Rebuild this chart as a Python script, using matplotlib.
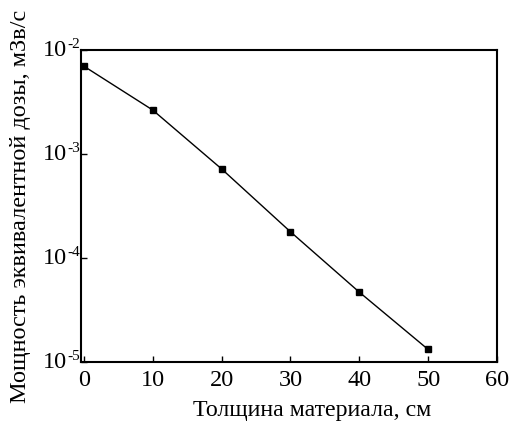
import numpy as np
import matplotlib
matplotlib.use("Agg")
import matplotlib.pyplot as plt
from matplotlib.ticker import NullLocator

thickness = [0, 10, 20, 30, 40, 50]
dose_rate = [7.0e-3, 2.65e-3, 7.2e-4, 1.79e-4, 4.7e-5, 1.32e-5]

x_ticks = [0, 10, 20, 30, 40, 50, 60]
y_ticks = [1e-5, 1e-4, 1e-3, 1e-2]
y_exps = ["-5", "-4", "-3", "-2"]
x_label = "Толщина материала, см"
y_label = "Мощность эквивалентной дозы, мЗв/с"

plt.rcParams['font.family'] = ['Liberation Serif', 'DejaVu Serif']

fig = plt.figure(figsize=(5.09, 4.21), dpi=100)
ax = fig.add_axes([81 / 509, 1 - 362 / 421, 416 / 509, 312 / 421])

ax.plot(thickness, dose_rate, color='black', lw=1.0, marker='s', ms=4.5,
        markerfacecolor='black', markeredgecolor='black')

ax.set_yscale('log')
ax.set_xlim(-0.4, 60)
ax.set_ylim(1e-5, 1e-2)
ax.set_xticks(x_ticks)
ax.set_yticks(y_ticks)
ax.set_yticklabels([])
ax.yaxis.set_minor_locator(NullLocator())

ax.tick_params(direction='in', length=4, width=1.0, labelsize=17.5,
               top=False, right=False, pad=6)
for s in ax.spines.values():
    s.set_linewidth(1.5)

# y tick labels as 10 with a small superscript
px = 72 / 100
for v, e in zip(y_ticks, y_exps):
    ax.annotate("10", xy=(0, v), xycoords=('axes fraction', 'data'),
                xytext=(-14.5 * px, 0), textcoords='offset points',
                ha='right', va='center', fontsize=17.5)
    ax.annotate(e, xy=(0, v), xycoords=('axes fraction', 'data'),
                xytext=(-14 * px, 5.5 * px), textcoords='offset points',
                ha='left', va='center', fontsize=11)

ax.set_ylabel(y_label, fontsize=17.5, labelpad=30)
fig.text(312.5 / 509, 1 - 416 / 421, x_label, fontsize=17.2,
         ha='center', va='baseline')

fig.savefig("out.png", dpi=100)
